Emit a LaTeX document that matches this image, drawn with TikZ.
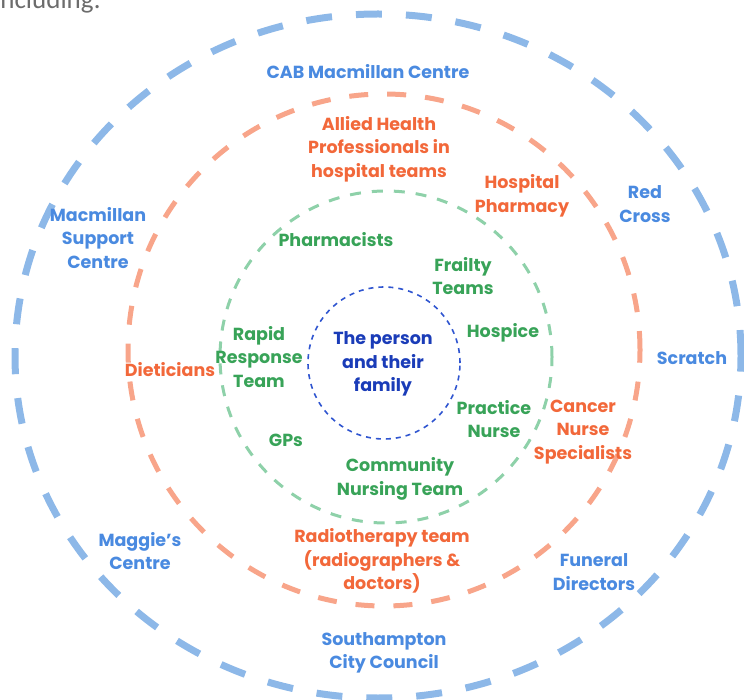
\documentclass[tikz,border=0pt]{standalone}
\usepackage{fontspec}
\setmainfont{Poppins}
\newfontfamily\capfont{Carlito}
\begin{document}
\begin{tikzpicture}[x=1pt,y=-1pt,
  lbl/.style={align=center,font=\fontsize{17.5}{23.5}\selectfont\bfseries,inner sep=0pt},
  outerlbl/.style={lbl,text=outertext},
  midlbl/.style={lbl,text=midtext},
  innerlbl/.style={lbl,text=innertext},
  corelbl/.style={lbl,text=coretext},
  ring/.style={line cap=butt}]
\definecolor{outerdash}{HTML}{8DB8E8}
\definecolor{outertext}{HTML}{4A8AE0}
\definecolor{middash}{HTML}{F8A58A}
\definecolor{midtext}{HTML}{F2683A}
\definecolor{innerdash}{HTML}{8ED1A9}
\definecolor{innertext}{HTML}{38A358}
\definecolor{coredash}{HTML}{2F55D0}
\definecolor{coretext}{HTML}{1A3CB8}
\useasboundingbox (0,0) rectangle (744,700);
\clip (0,0) rectangle (744,700);
% caption fragment
\node[anchor=base west,inner sep=0pt,text=gray!85!black,font=\capfont\fontsize{27}{30}\selectfont] (cap) at (-6,9) {including:};
% rings
\draw[ring,outerdash,line width=7pt,dash pattern=on 26pt off 24pt] (378,356) ellipse [x radius=363pt,y radius=342pt];
\draw[ring,middash,line width=5pt,dash pattern=on 19pt off 19pt] (384,350) circle [radius=256pt];
\draw[ring,innerdash,line width=3pt,dash pattern=on 11pt off 11pt] (386,357) circle [radius=166pt];
\draw[ring,coredash,line width=1.6pt,dash pattern=on 5pt off 5pt] (384,363) circle [radius=76pt];
% outer labels
\node[outerlbl] (cab) at (368,72) {CAB Macmillan Centre};
\node[outerlbl] (red) at (645,204) {Red\\Cross};
\node[outerlbl] (mac) at (98,238) {Macmillan\\Support\\Centre};
\node[outerlbl] (scr) at (692,358) {Scratch};
\node[outerlbl] (mag) at (140,551) {Maggie's\\Centre};
\node[outerlbl] (fun) at (594,572) {Funeral\\Directors};
\node[outerlbl] (sou) at (384,653) {Southampton\\City Council};
% middle labels
\node[midlbl] (ahp) at (379,149) {Allied Health\\Professionals in\\hospital teams};
\node[midlbl] (hph) at (522,196) {Hospital\\Pharmacy};
\node[midlbl] (die) at (170,370) {Dieticians};
\node[midlbl] (cns) at (583,432) {Cancer\\Nurse\\Specialists};
\node[midlbl] (rad) at (382,561) {Radiotherapy team\\(radiographers \&\\doctors)};
% inner labels
\node[innerlbl] (pha) at (336,240) {Pharmacists};
\node[innerlbl] (fra) at (463,276) {Frailty\\Teams};
\node[innerlbl] (rrt) at (259,357) {Rapid\\Response\\Team};
\node[innerlbl] (hos) at (503,333) {Hospice};
\node[innerlbl] (pn) at (494,419) {Practice\\Nurse};
\node[innerlbl] (gps) at (286,440) {GPs};
\node[innerlbl] (cnt) at (400,479) {Community\\Nursing Team};
% core
\node[corelbl] (core) at (383,364) {The person\\and their\\family};
\end{tikzpicture}
\end{document}
